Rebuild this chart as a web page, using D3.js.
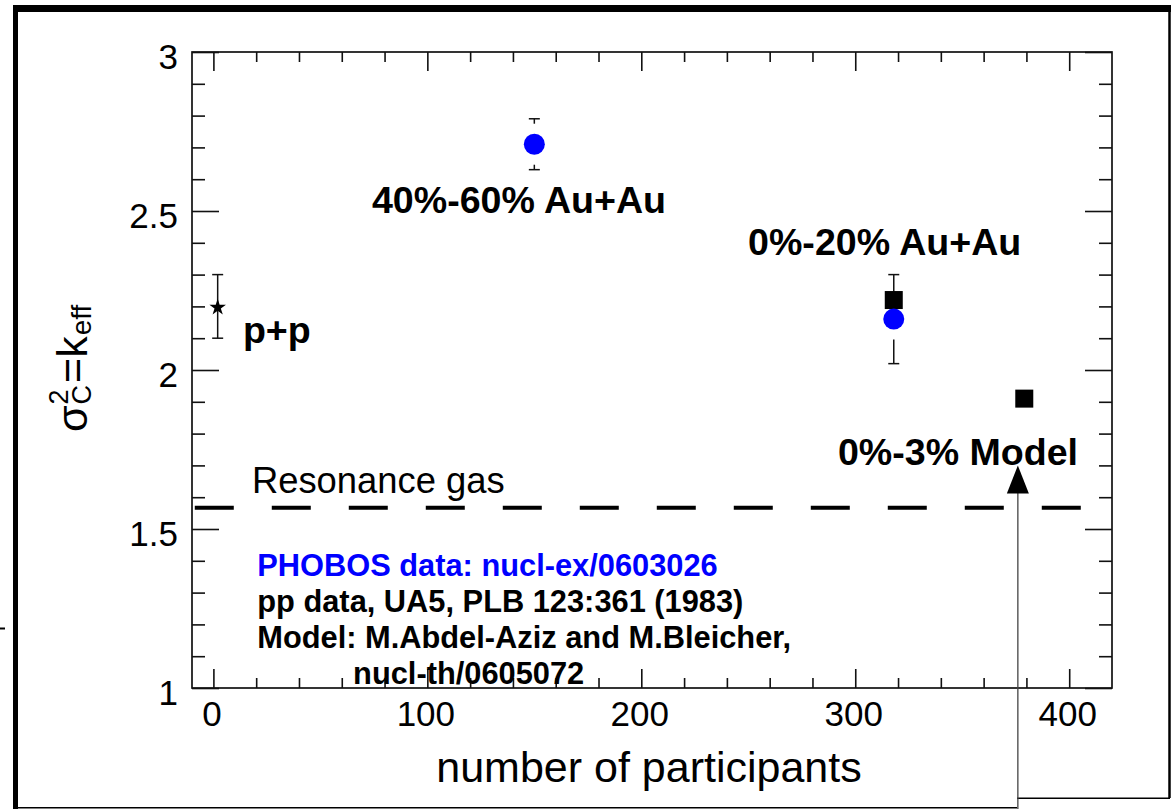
<!DOCTYPE html>
<html>
<head>
<meta charset="utf-8">
<script src="https://cdn.jsdelivr.net/npm/d3@7"></script>
<style>
  body { margin: 0; background: #fff; }
  text { font-family: "Liberation Sans", Arial, Helvetica, sans-serif; }
</style>
</head>
<body>
<script>
// Values
var ppX = [2], ppY = [2.2], ppErr = [0.1];                 // UA5 p+p
var phobosX = [150, 318], phobosY = [2.71, 2.16], phobosErr = [0.08, 0.14]; // PHOBOS Au+Au
var modelX = [318, 379], modelY = [2.22, 1.91];             // model points
var resonanceGas = 1.567;                                   // dashed line level
var arrowX = 376, arrowFrom = 0.6, arrowTo = 1.70;          // arrow
var xMajor = [0, 100, 200, 300, 400];
var yMajor = [1, 1.5, 2, 2.5, 3];
var yTickLabels = ["1", "1.5", "2", "2.5", "3"];

// Annotations: [text, x, y] in data units
var labels = [
  ["p+p", 13.8, 2.085],
  ["40%-60% Au+Au", 74.1, 2.494],
  ["0%-20% Au+Au", 249.9, 2.362],
  ["0%-3% Model", 291.9, 1.701]
];
var refLines = [
  ["PHOBOS data: nucl-ex/0603026", 20.5, 1.352],
  ["pp data, UA5, PLB 123:361 (1983)", 20.5, 1.239],
  ["Model: M.Abdel-Aziz and M.Bleicher,", 20.5, 1.126],
  ["nucl-th/0605072", 65.3, 1.013]
];

var W = 1173, H = 809;
var plot = { left: 192, right: 1112, top: 52, bottom: 688 };

var svg = d3.select("body").append("svg")
  .attr("width", W)
  .attr("height", H);

svg.append("rect").attr("width", W).attr("height", H).attr("fill", "#fff");

var x = d3.scaleLinear().domain([-10, 420]).range([plot.left, plot.right]);
var y = d3.scaleLinear().domain([1, 3]).range([plot.bottom, plot.top]);

// outer frame (thick left/top, thin right/bottom)
var frame = svg.append("g").attr("stroke", "#000").attr("fill", "none");
frame.append("line").attr("x1", 15.5).attr("x2", 15.5).attr("y1", 5).attr("y2", 809).attr("stroke-width", 5);
frame.append("line").attr("x1", 13).attr("x2", 1171).attr("y1", 8.5).attr("y2", 8.5).attr("stroke-width", 7);
frame.append("line").attr("x1", 1169.5).attr("x2", 1169.5).attr("y1", 5).attr("y2", 798).attr("stroke-width", 2.5);
frame.append("line").attr("x1", 13).attr("x2", 1017).attr("y1", 807.8).attr("y2", 807.8).attr("stroke-width", 1.5);
frame.append("line").attr("x1", 1017).attr("x2", 1170).attr("y1", 798.3).attr("y2", 798.3).attr("stroke-width", 1.5);
// stray mark at the left edge
frame.append("line").attr("x1", 0).attr("x2", 5).attr("y1", 628.5).attr("y2", 628.5).attr("stroke-width", 2);

// axes: ticks point inward
var minorX = d3.range(0, 420, 20).filter(function (v) { return xMajor.indexOf(v) < 0; });
var minorY = d3.range(1.1, 3, 0.1).map(function (v) { return +v.toFixed(1); })
  .filter(function (v) { return yMajor.indexOf(v) < 0; });

var axisStyle = function (g) {
  g.selectAll("path").remove();
  g.selectAll("line").attr("stroke", "#111").attr("stroke-width", 1.6);
};

svg.append("g").attr("transform", "translate(0," + plot.bottom + ")")
  .call(d3.axisBottom(x).tickValues(minorX).tickSize(-10).tickFormat(""))
  .call(axisStyle);
svg.append("g").attr("transform", "translate(0," + plot.top + ")")
  .call(d3.axisTop(x).tickValues(minorX).tickSize(-10).tickFormat(""))
  .call(axisStyle);
svg.append("g").attr("transform", "translate(" + plot.left + ",0)")
  .call(d3.axisLeft(y).tickValues(minorY).tickSize(-13).tickFormat(""))
  .call(axisStyle);
svg.append("g").attr("transform", "translate(" + plot.right + ",0)")
  .call(d3.axisRight(y).tickValues(minorY).tickSize(-13).tickFormat(""))
  .call(axisStyle);

var xAxis = svg.append("g").attr("transform", "translate(0," + plot.bottom + ")")
  .call(d3.axisBottom(x).tickValues(xMajor).tickSize(-19).tickFormat(d3.format("d")))
  .call(axisStyle);
xAxis.selectAll("text")
  .attr("y", 38).attr("dy", null).attr("dx", -2)
  .attr("font-size", 35).attr("fill", "#000")
  .style("font-family", "'Liberation Sans', Arial, sans-serif");

svg.append("g").attr("transform", "translate(0," + plot.top + ")")
  .call(d3.axisTop(x).tickValues(xMajor).tickSize(-19).tickFormat(""))
  .call(axisStyle);

var yAxis = svg.append("g").attr("transform", "translate(" + plot.left + ",0)")
  .call(d3.axisLeft(y).tickValues(yMajor).tickSize(-27)
    .tickFormat(function (d, i) { return yTickLabels[i]; }))
  .call(axisStyle);
yAxis.selectAll("text")
  .attr("x", -14).attr("dy", null).attr("y", 16)
  .attr("font-size", 35).attr("fill", "#000")
  .style("font-family", "'Liberation Sans', Arial, sans-serif");

svg.append("g").attr("transform", "translate(" + plot.right + ",0)")
  .call(d3.axisRight(y).tickValues(yMajor).tickSize(-27).tickFormat(""))
  .call(axisStyle);

// plot frame
svg.append("rect")
  .attr("x", plot.left).attr("y", plot.top)
  .attr("width", plot.right - plot.left).attr("height", plot.bottom - plot.top)
  .attr("fill", "none").attr("stroke", "#111").attr("stroke-width", 1.7);

// resonance gas dashed line
svg.append("line")
  .attr("x1", x(-8.7)).attr("x2", x(405.8))
  .attr("y1", y(resonanceGas)).attr("y2", y(resonanceGas))
  .attr("stroke", "#000").attr("stroke-width", 4)
  .attr("stroke-dasharray", "39,38");

// arrow
svg.append("line")
  .attr("x1", x(arrowX)).attr("x2", x(arrowX))
  .attr("y1", y(arrowFrom)).attr("y2", y(arrowTo) + 20)
  .attr("stroke", "#444").attr("stroke-width", 1.3);
svg.append("path")
  .attr("d", "M" + x(arrowX) + "," + y(arrowTo) +
    " l-11,28 h22 z")
  .attr("fill", "#000");

// error bars with a gap round the marker
var cap = 5.5;
var errorBar = function (xs, ys, es, gap) {
  var g = svg.append("g").attr("stroke", "#111").attr("stroke-width", 1.5);
  xs.forEach(function (xv, i) {
    var cx = x(xv), cy = y(ys[i]);
    var top = y(ys[i] + es[i]), bot = y(ys[i] - es[i]);
    if (cy - gap > top) g.append("line").attr("x1", cx).attr("x2", cx).attr("y1", top).attr("y2", cy - gap);
    if (cy + gap < bot) g.append("line").attr("x1", cx).attr("x2", cx).attr("y1", cy + gap).attr("y2", bot);
    g.append("line").attr("x1", cx - cap).attr("x2", cx + cap).attr("y1", top).attr("y2", top);
    g.append("line").attr("x1", cx - cap).attr("x2", cx + cap).attr("y1", bot).attr("y2", bot);
  });
};
errorBar(ppX, ppY, ppErr, 0);
errorBar(phobosX, phobosY, phobosErr, 20.5);

// model squares
svg.selectAll(".model")
  .data(d3.zip(modelX, modelY))
  .enter().append("rect")
  .attr("class", "model")
  .attr("x", function (d) { return x(d[0]) - 9; })
  .attr("y", function (d) { return y(d[1]) - 9; })
  .attr("width", 18).attr("height", 18)
  .attr("fill", "#000");

// PHOBOS circles
svg.selectAll(".phobos")
  .data(d3.zip(phobosX, phobosY))
  .enter().append("circle")
  .attr("class", "phobos")
  .attr("cx", function (d) { return x(d[0]); })
  .attr("cy", function (d) { return y(d[1]); })
  .attr("r", 10.5)
  .attr("fill", "#0000ff");

// p+p star
svg.selectAll(".pp")
  .data(d3.zip(ppX, ppY))
  .enter().append("path")
  .attr("class", "pp")
  .attr("transform", function (d) { return "translate(" + x(d[0]) + "," + (y(d[1]) + 1) + ")"; })
  .attr("d", d3.symbol().type(d3.symbolStar).size(85))
  .attr("fill", "#000");

// annotations
svg.selectAll(".lab")
  .data(labels)
  .enter().append("text")
  .attr("class", "lab")
  .attr("x", function (d) { return x(d[1]); })
  .attr("y", function (d) { return y(d[2]); })
  .attr("font-size", 37.6).attr("font-weight", "bold")
  .text(function (d) { return d[0]; });

svg.append("text")
  .attr("x", x(18)).attr("y", y(1.613))
  .attr("font-size", 36.4)
  .text("Resonance gas");

svg.selectAll(".ref")
  .data(refLines)
  .enter().append("text")
  .attr("class", "ref")
  .attr("x", function (d) { return x(d[1]); })
  .attr("y", function (d) { return y(d[2]); })
  .attr("font-size", 30.8).attr("font-weight", "bold")
  .attr("fill", function (d, i) { return i === 0 ? "#0000ff" : "#000"; })
  .text(function (d) { return d[0]; });

// axis titles
svg.append("text")
  .attr("x", 649).attr("y", 782)
  .attr("text-anchor", "middle")
  .attr("font-size", 43)
  .text("number of participants");

var yl = svg.append("g").attr("transform", "translate(87,432) rotate(-90)");
var t1 = yl.append("text").attr("font-size", 43).text("σ");
var w1 = t1.node().getComputedTextLength();
yl.append("text").attr("x", w1 + 1).attr("y", -19).attr("font-size", 27).text("2");
var tc = yl.append("text").attr("x", w1 + 1).attr("y", 4).attr("font-size", 27).text("C");
var w2 = tc.node().getComputedTextLength();
var t3 = yl.append("text").attr("x", w1 + w2 + 3).attr("font-size", 43).text("=k");
var w3 = t3.node().getComputedTextLength();
yl.append("text").attr("x", w1 + w2 + w3 + 4).attr("y", 4).attr("font-size", 28).text("eff");
</script>
</body>
</html>
